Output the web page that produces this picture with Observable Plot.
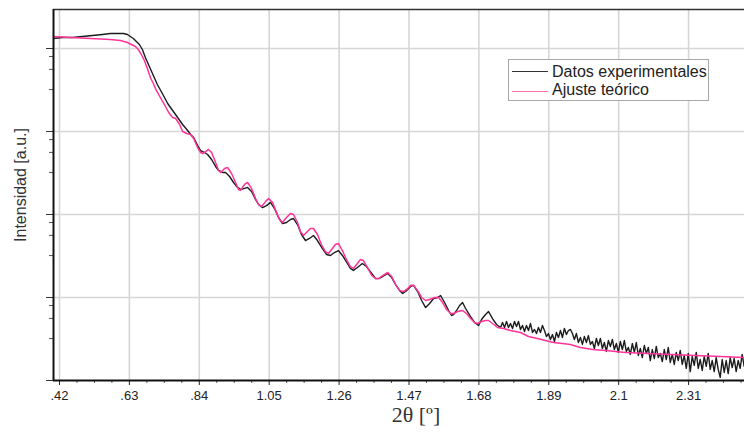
<!DOCTYPE html>
<html>
<head>
<meta charset="utf-8">
<script src="https://cdn.jsdelivr.net/npm/d3@7"></script>
<script src="https://cdn.jsdelivr.net/npm/@observablehq/plot@0.6"></script>
<style>
  html, body { margin: 0; padding: 0; background: #fff; }
  #wrap { position: relative; width: 744px; height: 433px; overflow: hidden; font-family: "Liberation Sans", Arial, sans-serif; }
  #wrap svg { position: absolute; left: 0; top: 0; }
  .ylabel { position: absolute; left: 21px; top: 185px; transform: translate(-50%, -50%) rotate(-90deg); white-space: nowrap; font-size: 16px; color: #333; }
  .xlabel { position: absolute; left: 416px; top: 404px; transform: translateX(-50%); white-space: nowrap; font-family: "Liberation Serif", "DejaVu Serif", serif; font-size: 22px; line-height: 22px; color: #333; }
  .legend { position: absolute; left: 508px; top: 59px; width: 201px; height: 42px; box-sizing: border-box; border: 1px solid #a8a8a8; background: #fff; }
  .legend .sw { position: absolute; left: 3px; width: 36px; height: 0; }
  .legend .lt { position: absolute; left: 43px; font-size: 16px; line-height: 16px; color: #222; white-space: nowrap; }
</style>
</head>
<body>
<div id="wrap"></div>
<script>
// ---- Data (2θ in degrees, intensity in arbitrary units) ----
const expX1 = [0.402,0.429,0.459,0.489,0.519,0.549,0.573,0.597,0.612,0.624,
0.633,0.642,0.651,0.660,0.669,0.678,0.690,0.702,0.714,0.729,
0.745,0.760,0.775,0.790,0.805,0.814,0.823,0.835,0.844,0.856,
0.865,0.877,0.889,0.898,0.910,0.919,0.931,0.943,0.952,0.964,
0.976,0.985,0.997,1.009,1.018,1.030,1.042,1.054,1.066,1.078,
1.090,1.102,1.114,1.123,1.135,1.147,1.159,1.171,1.183,1.195,
1.210,1.222,1.234,1.246,1.258,1.270,1.285,1.294,1.303,1.315,
1.330,1.342,1.358,1.370,1.379,1.391,1.406,1.418,1.430,1.442,
1.451,1.463,1.475,1.484,1.496,1.508,1.520,1.532,1.544,1.556,
1.565,1.577,1.589,1.598,1.604,1.613,1.622,1.631,1.640,1.655,
1.667,1.679,1.688,1.700,1.709,1.721,1.733,1.745];
const expY1 = [13200,13570,13570,13950,14340,14750,15160,15160,15160,14750,
13950,13200,12140,11170,9726,7786,6067,4727,3683,2870,
2175,1791,1475,1214,1028,920,846,678,590,558,
528,460,379,339,321,321,287,243,218,200,
206,212,189,152,132,121,128,140,118,92.0,
77.9,80.1,87.0,89.4,75.7,57.4,48.6,51.4,55.8,48.6,
38.9,33.0,32.1,34.8,36.8,32.1,25.7,22.4,21.2,23.0,
25.7,23.6,19.5,16.9,16.9,17.9,19.5,17.4,14.3,12.1,
11.2,12.1,13.6,14.0,11.8,9.20,7.57,8.46,9.73,10.0,
10.57,8.70,6.97,6.07,6.24,6.97,8.01,8.70,7.37,5.90,
5.00,4.60,5.43,6.24,6.78,5.58,4.73,4.35];
const expX2 = [1.751,1.757,1.763,1.769,1.775,1.781,1.787,1.793,1.799,1.805,
1.811,1.817,1.823,1.829,1.835,1.841,1.847,1.853,1.859,1.865,
1.871,1.877,1.883,1.889,1.895,1.901,1.907,1.913,1.919,1.925,
1.931,1.937,1.943,1.949,1.955,1.961,1.967,1.973,1.979,1.985,
1.991,1.997,2.003,2.009,2.015,2.021,2.027,2.033,2.039,2.045,
2.051,2.057,2.063,2.069,2.075,2.081,2.087,2.093,2.099,2.105,
2.111,2.117,2.123,2.129,2.135,2.141,2.147,2.153,2.159,2.165,
2.171,2.177,2.183,2.189,2.195,2.201,2.207,2.213,2.219,2.225,
2.231,2.237,2.243,2.249,2.255,2.261,2.267,2.273,2.279,2.285,
2.291,2.297,2.303,2.309,2.315,2.321,2.327,2.333,2.339,2.345,
2.351,2.357,2.363,2.369,2.375,2.381,2.387,2.393,2.399,2.405,
2.411,2.417,2.423,2.429,2.435,2.441,2.447,2.453,2.459,2.465,
2.471,2.477];
const expY2 = [5.00,4.35,5.14,4.35,4.86,4.23,5.14,4.47,5.14,4.12,
4.60,3.89,4.60,4.00,4.86,3.79,4.12,3.68,4.35,3.79,
4.60,4.00,3.39,3.68,3.12,3.58,2.95,3.79,3.30,4.00,
3.30,4.23,3.58,4.00,4.12,3.68,3.12,3.68,2.87,3.30,
2.72,3.39,2.87,3.48,2.72,2.95,2.43,3.21,2.64,3.21,
2.43,2.87,2.24,3.03,2.57,3.12,2.36,2.79,2.18,2.95,
2.36,3.03,2.24,2.50,2.06,2.79,2.18,2.87,2.00,2.43,
1.89,2.64,2.12,2.50,1.74,2.36,1.84,2.57,1.89,2.12,
1.69,2.36,1.79,2.50,1.65,2.06,1.56,2.18,1.74,2.30,
1.56,2.00,1.40,2.12,1.28,1.95,1.52,2.18,1.40,1.79,
1.32,1.95,1.48,2.12,1.36,1.74,1.28,1.89,1.36,1.09,
1.79,1.25,1.74,1.21,1.89,1.43,1.84,1.28,1.74,1.40,
2.06,1.48];

const fitX = [0.402,0.453,0.513,0.573,0.603,0.624,0.636,0.648,0.657,0.666,
0.675,0.684,0.693,0.702,0.711,0.723,0.735,0.748,0.760,0.769,
0.781,0.790,0.802,0.814,0.823,0.835,0.844,0.850,0.859,0.868,
0.877,0.889,0.898,0.904,0.916,0.925,0.937,0.949,0.958,0.964,
0.976,0.985,0.997,1.009,1.018,1.027,1.039,1.048,1.060,1.072,
1.081,1.090,1.102,1.114,1.123,1.135,1.144,1.153,1.165,1.174,
1.183,1.195,1.207,1.219,1.228,1.240,1.249,1.258,1.270,1.282,
1.294,1.303,1.315,1.324,1.333,1.345,1.358,1.370,1.379,1.391,
1.406,1.418,1.430,1.442,1.454,1.466,1.475,1.484,1.496,1.508,
1.520,1.532,1.547,1.559,1.571,1.583,1.595,1.604,1.616,1.631,
1.643,1.655,1.667,1.676,1.688,1.700,1.709,1.721,1.736,1.754,
1.775,1.805,1.829,1.856,1.880,1.904,1.931,1.955,1.985,2.022,
2.061,2.121,2.187,2.256,2.331,2.406,2.478];
const fitY = [13950,13570,13200,12840,12480,11810,11170,10570,9726,8461,
7164,5739,4472,3786,3119,2568,2115,1694,1475,1434,
1214,1000,946,920,823,641,558,543,574,607,
558,423,339,321,358,368,312,243,200,195,
230,243,206,156,132,125,143,156,140,106,
87.0,80.1,92.0,103,100,80.1,62.4,55.8,62.4,67.8,
67.8,57.4,43.5,35.8,33.9,38.9,43.5,44.7,36.8,28.7,
23.6,22.4,25.7,28.7,27.9,23.0,18.4,16.9,16.9,18.4,
20.0,17.9,14.3,12.1,11.8,12.8,14.0,14.0,12.1,10.0,
9.20,9.46,10.0,10.0,8.70,7.16,6.41,6.41,6.78,6.97,
6.41,5.58,5.00,4.86,5.14,5.28,5.28,4.86,4.35,4.23,
4.00,3.79,3.39,3.21,3.03,2.87,2.79,2.72,2.50,2.36,
2.30,2.18,2.12,2.06,2.00,1.95,1.89];

const xTicks = [0.42, 0.63, 0.84, 1.05, 1.26, 1.47, 1.68, 1.89, 2.10, 2.31];
const xTickLabels = [".42", ".63", ".84", "1.05", "1.26", "1.47", "1.68", "1.89", "2.1", "2.31"];
const yMajorTicks = [1, 10, 100, 1000, 10000];
const yMinorFactors = [0.8, 0.56, 0.32];
const seriesNames = ["Datos experimentales", "Ajuste teórico"];
const seriesColors = ["#1c1c1c", "#ff3399"];
const xLabelText = "2θ [º]";
const yLabelText = "Intensidad [a.u.]";

// ---- Build tables ----
const expYAll = expY1.concat(expY2);
const expData = expX1.concat(expX2).map((x, i) => ({x, y: expYAll[i]}));
const fitData = fitX.map((x, i) => ({x, y: fitY[i]}));
const xMinor = d3.range(1, 40).filter(i => i % 4 !== 0).map(i => 0.42 + 0.0525 * i);
const yMinor = yMajorTicks.slice(1).flatMap(m => yMinorFactors.map(f => m * f));
const xDomain = [0.402, 2.478];
const yDomain = [1, 29500];

const chart = Plot.plot({
  width: 744,
  height: 433,
  marginLeft: 53,
  marginRight: 0,
  marginTop: 9,
  marginBottom: 53,
  x: {domain: xDomain},
  y: {type: "log", domain: yDomain},
  style: {fontFamily: "'Liberation Sans', Arial, sans-serif", color: "#222", background: "white"},
  marks: [
    Plot.gridX(xTicks, {stroke: "#d6d6d6", strokeOpacity: 1, strokeWidth: 1.6}),
    Plot.gridY(yMajorTicks.slice(1), {stroke: "#d6d6d6", strokeOpacity: 1, strokeWidth: 1.6}),
    Plot.line(expData, {x: "x", y: "y", stroke: seriesColors[0], strokeWidth: 1.4}),
    Plot.line(fitData, {x: "x", y: "y", stroke: seriesColors[1], strokeWidth: 1.5}),
    Plot.axisX(xTicks, {tickSize: 5, tickPadding: 5, fontSize: 13, tickFormat: d => xTickLabels[xTicks.indexOf(d)], label: null, stroke: "#222"}),
    Plot.axisX(xMinor, {tickSize: 3, tickFormat: () => "", label: null, stroke: "#555"}),
    Plot.axisY(yMajorTicks, {tickSize: 7, tickFormat: () => "", label: null, stroke: "#333"}),
    Plot.axisY(yMinor, {tickSize: 4, tickFormat: () => "", label: null, stroke: "#555"}),
    Plot.ruleY([yDomain[1]], {stroke: "#333", strokeWidth: 1.3}),
    Plot.ruleY([yDomain[0]], {stroke: "#111", strokeWidth: 2}),
    Plot.ruleX([xDomain[0]], {stroke: "#111", strokeWidth: 2})
  ]
});

const wrap = document.getElementById("wrap");
wrap.appendChild(chart);

const yl = document.createElement("div");
yl.className = "ylabel"; yl.textContent = yLabelText; wrap.appendChild(yl);
const xl = document.createElement("div");
xl.className = "xlabel"; xl.textContent = xLabelText; wrap.appendChild(xl);

const lg = document.createElement("div");
lg.className = "legend";
const swTops = [11, 31];
const txtTops = [4, 22];
seriesNames.forEach((name, i) => {
  const sw = document.createElement("div");
  sw.className = "sw";
  sw.style.top = swTops[i] + "px";
  sw.style.borderTop = (i === 0 ? "1px solid " : "1.5px solid ") + (i === 0 ? "#333" : "#ff6fb0");
  lg.appendChild(sw);
  const t = document.createElement("div");
  t.className = "lt";
  t.style.top = txtTops[i] + "px";
  t.textContent = name;
  lg.appendChild(t);
});
wrap.appendChild(lg);
</script>
</body>
</html>
